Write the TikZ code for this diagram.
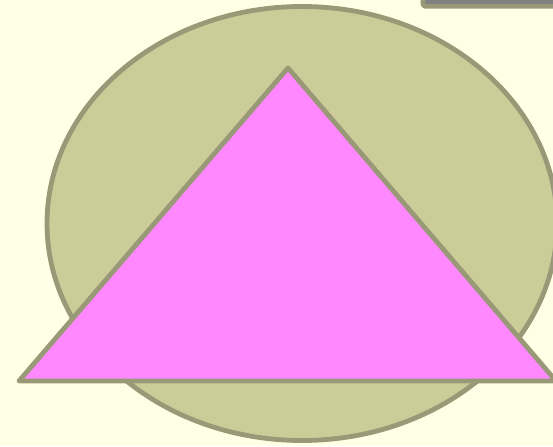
\documentclass[tikz,border=0pt]{standalone}
\definecolor{bgc}{RGB}{255,255,229}
\definecolor{olivefill}{RGB}{204,204,153}
\definecolor{olivestroke}{RGB}{153,153,119}
\definecolor{pinkfill}{RGB}{255,136,255}
\definecolor{grayfill}{RGB}{128,128,128}
\tikzset{
  shapeline/.style={draw=olivestroke, line width=3.6pt, line join=round}
}
\begin{document}
\begin{tikzpicture}[x=0.75pt,y=-0.75pt]
\fill[bgc] (0,0) rectangle (553,446);
\useasboundingbox (0,0) rectangle (553,446);
\begin{scope}
\clip (0,0) rectangle (553,446);
% gray box top right
\draw[shapeline, fill=grayfill, rounded corners=2pt] (423,-20) rectangle (600,6.3);
% ellipse
\draw[shapeline, fill=olivefill] (302,223.5) ellipse [x radius=255, y radius=217];
% triangle
\coordinate (apex) at (288,68);
\coordinate (bl) at (19,381);
\coordinate (br) at (556,381);
\draw[shapeline, fill=pinkfill] (apex) -- (br) -- (bl) -- cycle;
\end{scope}
\end{tikzpicture}
\end{document}
